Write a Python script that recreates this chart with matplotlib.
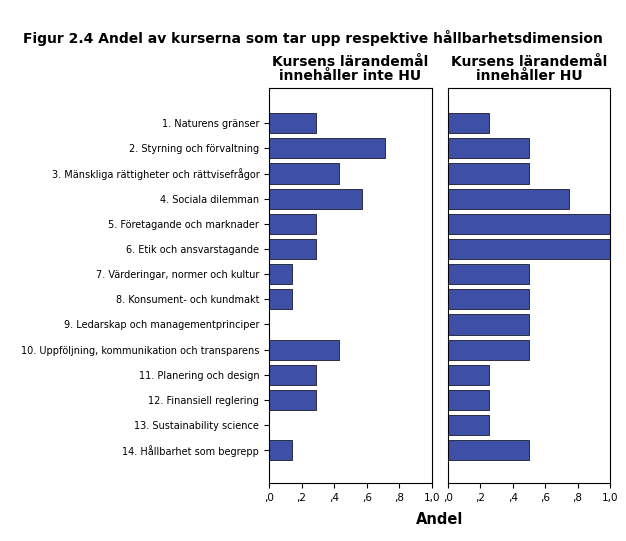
import matplotlib
matplotlib.use("Agg")
import matplotlib.pyplot as plt

categories = ["1. Naturens gränser", "2. Styrning och förvaltning",
              "3. Mänskliga rättigheter och rättvisefrågor", "4. Sociala dilemman",
              "5. Företagande och marknader", "6. Etik och ansvarstagande",
              "7. Värderingar, normer och kultur", "8. Konsument- och kundmakt",
              "9. Ledarskap och managementprinciper",
              "10. Uppföljning, kommunikation och transparens",
              "11. Planering och design", "12. Finansiell reglering",
              "13. Sustainability science", "14. Hållbarhet som begrepp"]
left_vals = [0.29, 0.71, 0.43, 0.57, 0.29, 0.29, 0.14, 0.14, 0.0, 0.43, 0.29, 0.29, 0.0, 0.14]
right_vals = [0.25, 0.5, 0.5, 0.75, 1.0, 1.0, 0.5, 0.5, 0.5, 0.5, 0.25, 0.25, 0.25, 0.5]
panel_titles = ["Kursens lärandemål\ninnehåller inte HU", "Kursens lärandemål\ninnehåller HU"]
xticks = [0, 0.2, 0.4, 0.6, 0.8, 1.0]
xticklabels = [",0", ",2", ",4", ",6", ",8", "1,0"]

fig = plt.figure(figsize=(6.26, 5.41), dpi=100)
W, H = 626, 541
axes = [fig.add_axes([269/W, 1-483/H, 163/W, 395/H]),
        fig.add_axes([448/W, 1-483/H, 162/W, 395/H])]
ys = list(range(len(categories)))
for i, (ax, vals) in enumerate(zip(axes, [left_vals, right_vals])):
    ax.barh(ys, vals, height=0.8, color="#3e4fa6", edgecolor="#1a1a2e", linewidth=0.6)
    ax.set_xlim(0, 1.0)
    ax.set_ylim(14.3, -1.4)
    ax.set_xticks(xticks)
    ax.set_xticklabels(xticklabels, fontsize=7.5)
    ax.set_title(panel_titles[i], fontsize=10, fontweight="bold", pad=6, linespacing=0.95)
    for s in ax.spines.values():
        s.set_linewidth(0.8)
    if i == 0:
        ax.set_yticks(ys)
        ax.set_yticklabels(categories, fontsize=7)
    else:
        ax.set_yticks([])
fig.text(0.5, 1-38/H, "Figur 2.4 Andel av kurserna som tar upp respektive hållbarhetsdimension",
         ha="center", va="center", fontsize=10, fontweight="bold")
fig.text(440/W, 1-519/H, "Andel", ha="center", va="center", fontsize=10.5, fontweight="bold")
fig.savefig("out.png", dpi=100)
